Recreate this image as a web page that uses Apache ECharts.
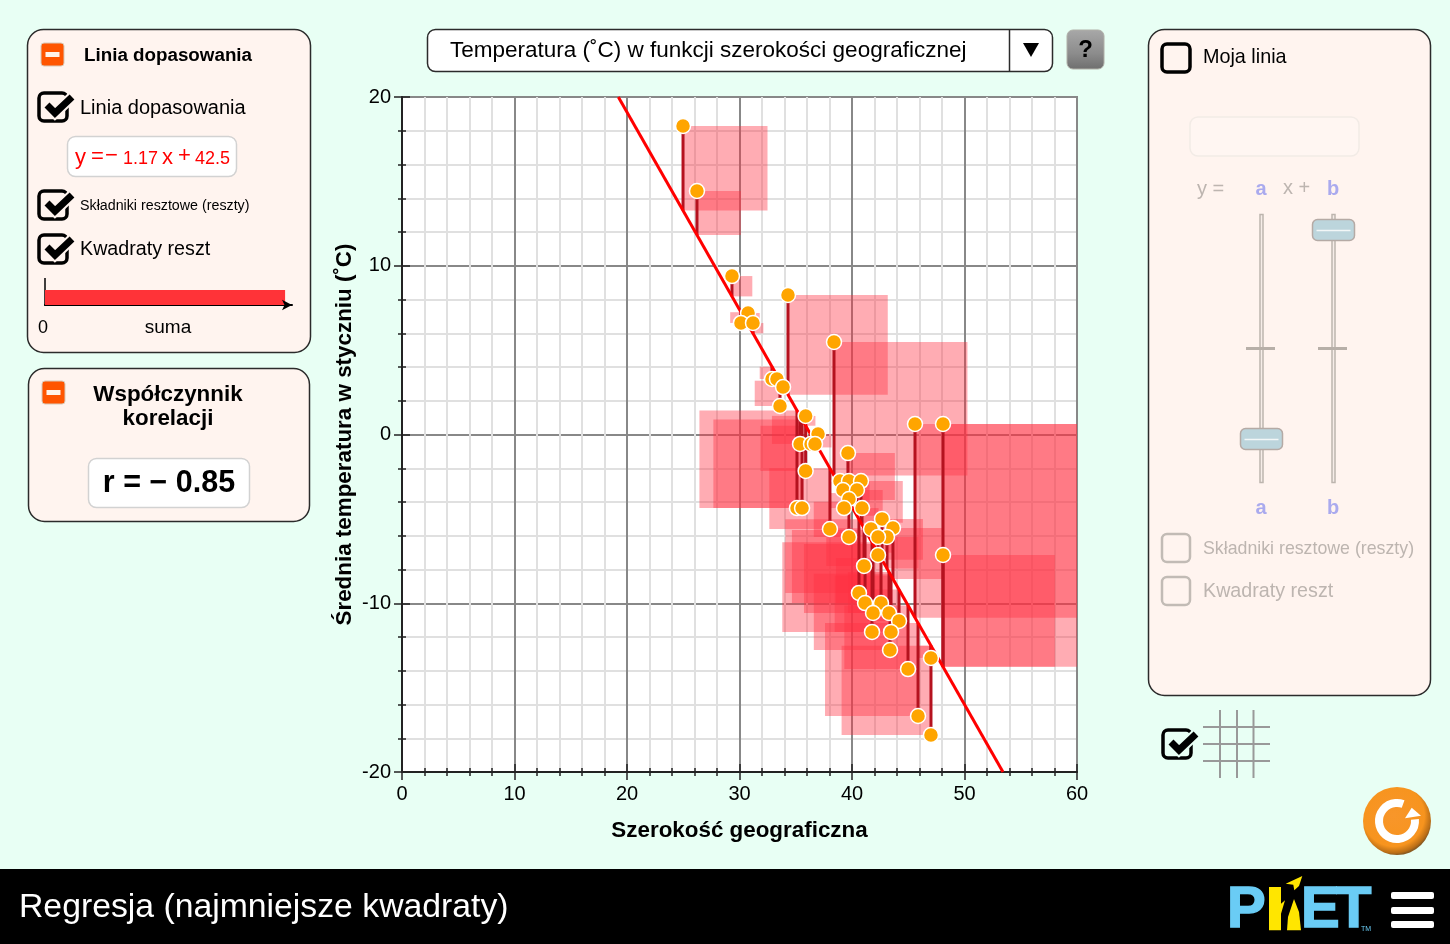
<!DOCTYPE html>
<html>
<head>
<meta charset="utf-8">
<title>Regresja (najmniejsze kwadraty)</title>
<script src="https://cdn.jsdelivr.net/npm/echarts@6/dist/echarts.min.js"></script>
<style>
  html, body { margin: 0; padding: 0; background: #e8fff4; }
  #chart { width: 1450px; height: 944px; }
</style>
</head>
<body>
<div id="chart"></div>
<script>
// szerokosc geograficzna miast
const latitude = [
  24.98, 26.22, 29.33, 34.31, 30.76, 30.13, 31.2, 38.4, 32.89, 33.33, 33.87, 33.6, 35.88, 45.6,
  48.09, 36.98, 35.38, 36.36, 36.71, 39.64, 35.88, 38.93, 39.73, 40.8, 39.2, 40.44, 39.73, 35.11,
  35.56, 39.29, 40.89, 42.67, 38.04, 41.69, 43.64, 43.11, 42.31, 39.73, 42.31, 48.09, 41.07, 40.62,
  41.16, 42.58, 41.87, 43.29, 44.18, 41.78, 43.47, 43.38, 47.02, 44.98, 45.87, 47.02
]
// srednia temperatura w styczniu
const januaryTemp = [
  18.28, 14.43, 9.39, 8.27, 7.2, 6.61, 6.61, 5.48, 3.29, 3.29, 2.81, 1.69, 1.1, 0.62,
  0.62, 0.03, -0.56, -0.56, -0.56, -1.1, -2.16, -2.76, -2.76, -2.76, -3.29, -3.29, -3.82, -4.36,
  -4.36, -4.36, -4.36, -5.0, -5.6, -5.6, -5.54, -6.07, -6.07, -6.07, -7.14, -7.14, -7.79, -9.39,
  -9.99, -9.99, -10.58, -10.58, -11.05, -11.7, -11.7, -12.77, -13.24, -13.9, -16.68, -17.81
]
const fitSlope = -1.17
const fitIntercept = 42.5
const fitEnds = [[19.23, 20], [53.42, -20]]
const sumBar = [0.972]

const points = latitude.map((x, i) => [x, januaryTemp[i]])

const font = '"Liberation Sans", Arial, sans-serif'
const panelFill = '#fff4ef'
const mint = '#e8fff4'
const faded = '#bdb5b0'
const lilac = '#aaaaee'
const logoBlue = '#6accf5'
const logoYellow = '#ffe600'

function txt (x, y, text, size, opt) {
  opt = opt || {}
  return {
    type: 'text',
    x,
    y: y + 2,
    z: 20,
    style: {
      text,
      font: (opt.bold ? 'bold ' : '') + size + 'px ' + font,
      fill: opt.fill || '#000',
      stroke: opt.stroke || 'none',
      lineWidth: opt.stroke ? 1.5 : 0,
      textAlign: opt.align || 'left',
      verticalAlign: 'middle'
    }
  }
}
function box (x, y, w, h, r, fill, stroke, lw) {
  return {
    type: 'rect',
    z: 10,
    shape: { x, y, width: w, height: h, r },
    style: { fill, stroke: stroke || 'none', lineWidth: lw || 1 }
  }
}
function seg (pts, stroke, lw, z) {
  return {
    type: 'polyline',
    z: z || 15,
    shape: { points: pts },
    style: { stroke, lineWidth: lw, fill: 'none', lineCap: 'butt' }
  }
}
function poly (pts, fill, z) {
  return { type: 'polygon', z: z || 15, shape: { points: pts }, style: { fill } }
}
function checkbox (x, y, bg, checked, color, lw) {
  const out = [box(x, y, 28, 28, 5, 'none', color || '#000', lw || 3.5)]
  out[0].z = 15
  if (checked) {
    const mark = [[x + 8, y + 12], [x + 16, y + 20], [x + 33, y + 4]]
    out.push(seg(mark, bg, 11, 16))
    out.push(seg(mark, '#000', 7, 17))
  }
  return out
}
function minusButton (x, y) {
  return [
    box(x, y, 23, 23, 3, '#ff5500', '#d8c9b8', 1),
    box(x + 4.5, y + 9, 14, 5, 0, '#fff4ea')
  ].map(o => { o.z = 15; return o })
}
function thumb (cx, cy) {
  return [
    Object.assign(box(cx - 21, cy - 11, 42, 21, 5, '#bcd5dc', '#b5aaa5', 1.5), { z: 16 }),
    seg([[cx - 17, cy], [cx + 17, cy]], '#f2f7f7', 1.5, 17)
  ]
}

const graphics = [
  // stopka
  box(0, 869, 1450, 75, 0, '#000'),
  txt(19, 906, 'Regresja (najmniejsze kwadraty)', 33.75, { fill: '#fff' }),
  // logo
  txt(1227, 909, 'P', 58, { bold: true, fill: logoBlue, stroke: logoBlue }),
  poly([[1269, 887], [1281, 887], [1281, 903.7], [1285, 900.3], [1281, 913.7], [1281, 930.3], [1269, 930.3]], logoYellow, 21),
  poly([[1287, 930.3], [1288, 917], [1294, 899], [1299, 912], [1301, 930.3]], logoYellow, 21),
  txt(1301, 909, 'E', 58, { bold: true, fill: logoBlue, stroke: logoBlue }),
  txt(1336, 909, 'T', 58, { bold: true, fill: logoBlue, stroke: logoBlue }),
  poly([[1302.3, 876], [1285.7, 883.7], [1293.3, 884.7], [1294.3, 890.3], [1299, 886]], logoYellow, 21),
  txt(1361, 927, 'TM', 7, { fill: logoBlue }),
  box(1391, 892, 43, 7, 2, '#fff'),
  box(1391, 907, 43, 7, 2, '#fff'),
  box(1391, 921, 43, 7, 2, '#fff'),

  // panel linii dopasowania
  box(27.5, 29.5, 283, 323, 16, panelFill, '#2b2b2b', 1.5),
  ...minusButton(41, 43),
  txt(84, 54, 'Linia dopasowania', 18.8, { bold: true }),
  ...checkbox(39, 93, panelFill, true),
  txt(80, 106, 'Linia dopasowania', 20),
  Object.assign(box(67.5, 136.5, 169, 40, 8, '#fff', '#d2d2d2', 1.5), { z: 12 }),
  txt(75, 156, 'y', 22, { fill: '#f00' }),
  txt(91, 155, '=', 22, { fill: '#f00' }),
  txt(105, 154, '−', 22, { fill: '#f00' }),
  txt(123, 157, '1.17', 18, { fill: '#f00' }),
  txt(162, 156, 'x', 22, { fill: '#f00' }),
  txt(178, 154, '+', 22, { fill: '#f00' }),
  txt(195, 157, '42.5', 18, { fill: '#f00' }),
  ...checkbox(39, 191, panelFill, true),
  txt(80, 204, 'Składniki resztowe (reszty)', 14.25),
  ...checkbox(39, 235, panelFill, true),
  txt(80, 248, 'Kwadraty reszt', 19.7),
  seg([[45, 278], [45, 306]], '#000', 1.5),
  txt(38, 326, '0', 18),
  txt(168, 326, 'suma', 19, { align: 'center' }),

  // panel korelacji
  box(28.5, 368.5, 281, 153, 16, panelFill, '#2b2b2b', 1.5),
  ...minusButton(42, 381),
  txt(168, 393, 'Współczynnik', 22.4, { bold: true, align: 'center' }),
  txt(168, 417, 'korelacji', 22.4, { bold: true, align: 'center' }),
  Object.assign(box(88.5, 458.5, 161, 49, 8, '#fff', '#d2d2d2', 1.5), { z: 12 }),
  txt(169, 482, 'r = − 0.85', 30.5, { bold: true, align: 'center' }),

  // lista wyboru danych
  box(427.5, 29.5, 625, 42, 8, '#fff', '#2b2b2b', 1.5),
  seg([[1009.5, 29], [1009.5, 71]], '#2b2b2b', 1.5),
  poly([[1023, 43], [1039, 43], [1031, 57]], '#000'),
  txt(450, 49, 'Temperatura (˚C) w funkcji szerokości geograficznej', 22.5),
  {
    type: 'rect',
    z: 10,
    shape: { x: 1067, y: 30, width: 37, height: 39, r: 6 },
    style: {
      fill: new echarts.graphic.LinearGradient(0, 0, 0, 1, [
        { offset: 0, color: '#a8a8a8' },
        { offset: 0.6, color: '#8c8c8c' },
        { offset: 1, color: '#6e6e6e' }
      ]),
      stroke: '#b0b0a8',
      lineWidth: 1
    }
  },
  txt(1085.5, 48, '?', 24, { bold: true, align: 'center' }),

  // panel mojej linii
  box(1148.5, 29.5, 282, 666, 16, panelFill, '#2b2b2b', 1.5),
  ...checkbox(1162, 44, panelFill, false),
  txt(1203, 56, 'Moja linia', 19.8),
  Object.assign(box(1190, 117, 169, 39, 8, '#fff6f2', '#f2ebe6', 1.5), { z: 12 }),
  txt(1197, 187, 'y =', 20, { fill: faded }),
  txt(1261, 187, 'a', 20, { bold: true, fill: lilac, align: 'center' }),
  txt(1283, 186, 'x +', 20, { fill: faded }),
  txt(1333, 187, 'b', 20, { bold: true, fill: lilac, align: 'center' }),
  Object.assign(box(1260, 214.5, 3, 268, 0, '#f6ede8', '#bdb5ae', 1.5), { z: 14 }),
  Object.assign(box(1332, 214.5, 3, 268, 0, '#f6ede8', '#bdb5ae', 1.5), { z: 14 }),
  seg([[1246, 348.5], [1275, 348.5]], '#b7afa8', 3),
  seg([[1318, 348.5], [1347, 348.5]], '#b7afa8', 3),
  ...thumb(1261.5, 439.5),
  ...thumb(1333.5, 230.5),
  txt(1261, 506, 'a', 20, { bold: true, fill: lilac, align: 'center' }),
  txt(1333, 506, 'b', 20, { bold: true, fill: lilac, align: 'center' }),
  ...checkbox(1162, 534, panelFill, false, '#c2bbb5', 2.5),
  txt(1203, 547, 'Składniki resztowe (reszty)', 17.75, { fill: faded }),
  ...checkbox(1162, 577, panelFill, false, '#c2bbb5', 2.5),
  txt(1203, 590, 'Kwadraty reszt', 19.7, { fill: faded }),

  // siatka
  ...checkbox(1163, 730, mint, true),
  seg([[1220, 710], [1220, 778]], '#999', 2),
  seg([[1237, 710], [1237, 778]], '#999', 2),
  seg([[1253.5, 710], [1253.5, 778]], '#999', 2),
  seg([[1203, 727], [1270, 727]], '#999', 2),
  seg([[1203, 744], [1270, 744]], '#999', 2),
  seg([[1203, 761], [1270, 761]], '#999', 2),

  // przycisk resetu
  {
    type: 'circle',
    z: 10,
    shape: { cx: 1397, cy: 821, r: 34 },
    style: {
      fill: new echarts.graphic.RadialGradient(0.45, 0.42, 0.58, [
        { offset: 0, color: '#f8962a' },
        { offset: 0.78, color: '#f7941e' },
        { offset: 0.95, color: '#b96d16' },
        { offset: 1, color: '#8a5a20' }
      ])
    }
  },
  {
    type: 'arc',
    z: 15,
    shape: { cx: 1397, cy: 821, r: 18, startAngle: -0.09, endAngle: 5.06, clockwise: true },
    style: { stroke: '#fff', lineWidth: 8, fill: 'none' }
  },
  poly([[1411.7, 807.7], [1421, 815.7], [1405, 818.3]], '#fff')
]

const chart = echarts.init(document.getElementById('chart'))

const option = {
  backgroundColor: mint,
  animation: false,
  textStyle: { fontFamily: font },
  grid: [
    {
      left: 402,
      top: 97,
      width: 675,
      height: 675,
      show: true,
      backgroundColor: '#fff',
      borderColor: '#888',
      borderWidth: 2
    },
    { left: 45, top: 290, width: 247, height: 15 }
  ],
  xAxis: [
    {
      type: 'value',
      min: 0,
      max: 60,
      interval: 10,
      name: 'Szerokość geograficzna',
      nameLocation: 'middle',
      nameGap: 48,
      nameTextStyle: { fontSize: 22.4, fontWeight: 'bold', color: '#000' },
      axisLine: { onZero: false, lineStyle: { color: '#222', width: 2 } },
      axisTick: { length: 8, lineStyle: { color: '#222', width: 1.5 } },
      minorTick: { show: true, splitNumber: 5, length: 4, lineStyle: { color: '#222', width: 1.5 } },
      axisLabel: { fontSize: 20, color: '#000', margin: 12 },
      splitLine: { lineStyle: { color: '#888', width: 2 } },
      minorSplitLine: { show: true, lineStyle: { color: '#e0e0e0', width: 2 } }
    },
    {
      // druga os tylko na kreski do wewnatrz wykresu
      type: 'value',
      position: 'bottom',
      min: 0,
      max: 60,
      interval: 10,
      axisLine: { show: false, onZero: false },
      axisTick: { inside: true, length: 8, lineStyle: { color: '#222', width: 1.5 } },
      minorTick: { show: true, splitNumber: 5, length: 4, lineStyle: { color: '#222', width: 1.5 } },
      axisLabel: { show: false },
      splitLine: { show: false }
    },
    {
      gridIndex: 1,
      type: 'value',
      min: 0,
      max: 1,
      z: 30,
      axisLine: { show: true, symbol: ['none', 'arrow'], symbolSize: [8, 10], lineStyle: { color: '#000', width: 2 } },
      axisTick: { show: false },
      axisLabel: { show: false },
      splitLine: { show: false }
    }
  ],
  yAxis: [
    {
      type: 'value',
      min: -20,
      max: 20,
      interval: 10,
      name: 'Średnia temperatura w styczniu (˚C)',
      nameLocation: 'middle',
      nameGap: 46,
      nameTextStyle: { fontSize: 22.4, fontWeight: 'bold', color: '#000' },
      axisLine: { onZero: false, lineStyle: { color: '#222', width: 2 } },
      axisTick: { length: 8, lineStyle: { color: '#222', width: 1.5 } },
      minorTick: { show: true, splitNumber: 5, length: 4, lineStyle: { color: '#222', width: 1.5 } },
      axisLabel: { fontSize: 20, color: '#000', margin: 11, padding: [6, 0, 0, 0] },
      splitLine: { lineStyle: { color: '#888', width: 2 } },
      minorSplitLine: { show: true, lineStyle: { color: '#e0e0e0', width: 2 } }
    },
    {
      type: 'value',
      position: 'left',
      min: -20,
      max: 20,
      interval: 10,
      axisLine: { show: false, onZero: false },
      axisTick: { inside: true, length: 8, lineStyle: { color: '#222', width: 1.5 } },
      minorTick: { show: true, splitNumber: 5, length: 4, lineStyle: { color: '#222', width: 1.5 } },
      axisLabel: { show: false },
      splitLine: { show: false }
    },
    {
      gridIndex: 1,
      type: 'category',
      data: ['suma'],
      axisLine: { show: false },
      axisTick: { show: false },
      axisLabel: { show: false }
    }
  ],
  series: [
    {
      // kwadraty reszt: bok w pikselach rowny reszcie
      type: 'custom',
      coordinateSystem: 'cartesian2d',
      clip: true,
      silent: true,
      z: 2,
      data: points,
      renderItem: function (params, api) {
        const x = api.value(0)
        const y = api.value(1)
        const p = api.coord([x, y])
        const q = api.coord([x, fitSlope * x + fitIntercept])
        const side = Math.abs(q[1] - p[1])
        return {
          type: 'rect',
          shape: {
            x: q[1] > p[1] ? p[0] : p[0] - side,
            y: Math.min(p[1], q[1]),
            width: side,
            height: side
          },
          style: { fill: 'rgba(255,47,64,0.4)' }
        }
      }
    },
    {
      // skladniki resztowe
      type: 'custom',
      coordinateSystem: 'cartesian2d',
      clip: true,
      silent: true,
      z: 3,
      data: points,
      renderItem: function (params, api) {
        const x = api.value(0)
        const p = api.coord([x, api.value(1)])
        const q = api.coord([x, fitSlope * x + fitIntercept])
        return {
          type: 'line',
          shape: { x1: p[0], y1: p[1], x2: q[0], y2: q[1] },
          style: { stroke: '#b5121f', lineWidth: 3 }
        }
      }
    },
    {
      type: 'line',
      data: fitEnds,
      z: 4,
      silent: true,
      symbol: 'none',
      lineStyle: { color: '#f00', width: 3 }
    },
    {
      type: 'scatter',
      data: points,
      z: 5,
      silent: true,
      symbolSize: 15,
      itemStyle: { color: '#ffa500', borderColor: '#fff', borderWidth: 1.5, opacity: 1 }
    },
    {
      type: 'bar',
      xAxisIndex: 2,
      yAxisIndex: 2,
      data: sumBar,
      barWidth: 15,
      z: 30,
      silent: true,
      itemStyle: { color: '#ff3338' }
    }
  ],
  graphic: graphics
}

chart.setOption(option)
window.addEventListener('resize', function () {
  chart.resize()
})
</script>
</body>
</html>
